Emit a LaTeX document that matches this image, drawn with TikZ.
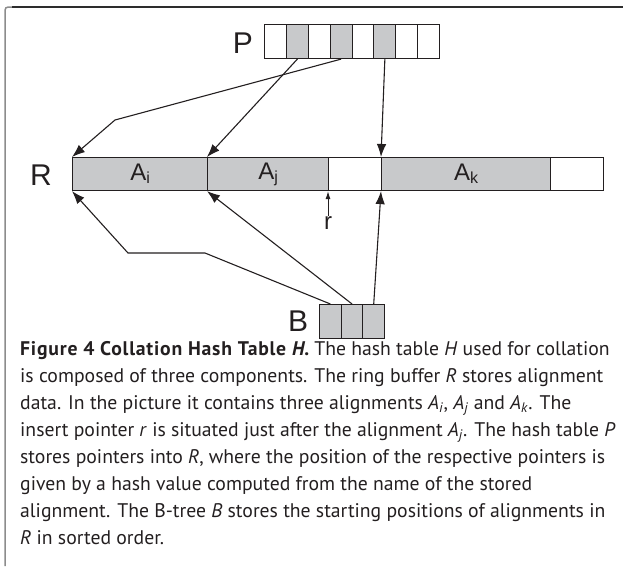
\documentclass[tikz,border=0pt]{standalone}
\usepackage{fontspec}
\setmainfont{Liberation Sans}
\newfontfamily\capfont{PT Sans}
\newfontfamily\capbold[LetterSpace=4]{PT Sans Bold}
\newfontfamily\capbolditalic[LetterSpace=4]{PT Sans Bold Italic}
\usetikzlibrary{arrows.meta}
\definecolor{cellgray}{RGB}{200,201,203}
\definecolor{ink}{RGB}{35,31,32}
\definecolor{framegray}{RGB}{140,140,140}
\definecolor{framedark}{RGB}{45,45,45}
\begin{document}
\begin{tikzpicture}[x=1pt,y=-1pt,
  cell/.style={draw=ink, line width=1.1pt, inner sep=0pt, minimum height=34pt, minimum width=21.875pt, anchor=north west, fill=white},
  full/.style={cell, fill=cellgray},
  seg/.style={draw=ink, line width=1.1pt, inner sep=0pt, minimum height=33pt, anchor=north west},
  big/.style={font=\fontsize{30}{30}\selectfont, text=ink, inner sep=0pt},
  lab/.style={font=\fontsize{24}{24}\selectfont, text=ink, inner sep=0pt},
  ptr/.style={draw=ink, line width=1.1pt, -{Latex[length=13pt,width=9.5pt]}},
  capline/.style={anchor=base west, inner sep=0pt, text=ink, font=\capfont\fontsize{19.7}{27}\selectfont},
]
\useasboundingbox (0,0) rectangle (623,571);
% frame
\draw[framegray, line width=1.5pt] (5,566) -- (5,14) .. controls (5,7) .. (12,7);
\draw[framedark, line width=1.5pt] (12,7) -- (623,7);

% P array
\node[big] (P) at (243,43) {P};
\node[cell] (p1) at (264,24) {};
\node[full] (p2) at (285.875,24) {};
\node[cell] (p3) at (307.75,24) {};
\node[full] (p4) at (329.625,24) {};
\node[cell] (p5) at (351.5,24) {};
\node[full] (p6) at (373.375,24) {};
\node[cell] (p7) at (395.25,24) {};
\node[cell] (p8) at (417.125,24) {};

% R buffer
\node[big] (R) at (41,175) {R};
\node[seg, fill=cellgray, minimum width=135pt] (ai) at (72,157) {};
\node[seg, fill=cellgray, minimum width=121pt] (aj) at (207,157) {};
\node[seg, fill=white, minimum width=53pt] (e1) at (328,157) {};
\node[seg, fill=cellgray, minimum width=169pt] (ak) at (381,157) {};
\node[seg, fill=white, minimum width=53pt] (e2) at (550,157) {};
\node[lab] (lai) at (ai.center) {A\raisebox{-3pt}{\fontsize{16}{16}\selectfont i}};
\node[lab] (laj) at (aj.center) {A\raisebox{-3pt}{\fontsize{16}{16}\selectfont j}};
\node[lab] (lak) at (ak.center) {A\raisebox{-3pt}{\fontsize{16}{16}\selectfont k}};

% insert pointer r
\node[lab, anchor=north] (r) at (328,216) {r};
\draw[ink, line width=1pt, -{Latex[length=8pt,width=5pt]}] (r.north) -- (e1.south west);

% B array
\node[big] (B) at (298,321) {B};
\node[full, minimum width=21.67pt] (b1) at (319,304) {};
\node[full, minimum width=21.67pt] (b2) at (340.67,304) {};
\node[full, minimum width=21.67pt] (b3) at (362.33,304) {};

% pointers from P
\coordinate (k1) at (115,120);
\draw[ptr] (p4.south) -- (k1) -- (ai.north west);
\draw[ptr] (p2.south) -- (aj.north west);
\draw[ptr] (p6.south) -- (ak.north west);

% pointers from B
\coordinate (k2) at (205,253);
\coordinate (k3) at (128,253);
\draw[ptr] (b1.north) -- (k2) -- (k3) -- (ai.south west);
\draw[ptr] (b2.north) -- (aj.south west);
\draw[ptr] (b3.north) -- (ak.south west);

% caption
\node[capline] (c1) at (20,355) {{\capbold Figure 4 Collation Hash Table {\capbolditalic H}.} The hash table \textit{H} used for collation};
\node[capline] (c2) at (20,382) {is composed of three components. The ring buffer \textit{R} stores alignment};
\node[capline] (c3) at (20,409) {data. In the picture it contains three alignments \textit{A}\textsubscript{\textit{i}}, \textit{A}\textsubscript{\textit{j}} and \textit{A}\textsubscript{\textit{k}}. The};
\node[capline] (c4) at (20,436) {insert pointer \textit{r} is situated just after the alignment \textit{A}\textsubscript{\textit{j}}. The hash table \textit{P}};
\node[capline] (c5) at (20,463) {stores pointers into \textit{R}, where the position of the respective pointers is};
\node[capline] (c6) at (20,490) {given by a hash value computed from the name of the stored};
\node[capline] (c7) at (20,517) {alignment. The B-tree \textit{B} stores the starting positions of alignments in};
\node[capline] (c8) at (20,544) {\textit{R} in sorted order.};
\end{tikzpicture}
\end{document}
